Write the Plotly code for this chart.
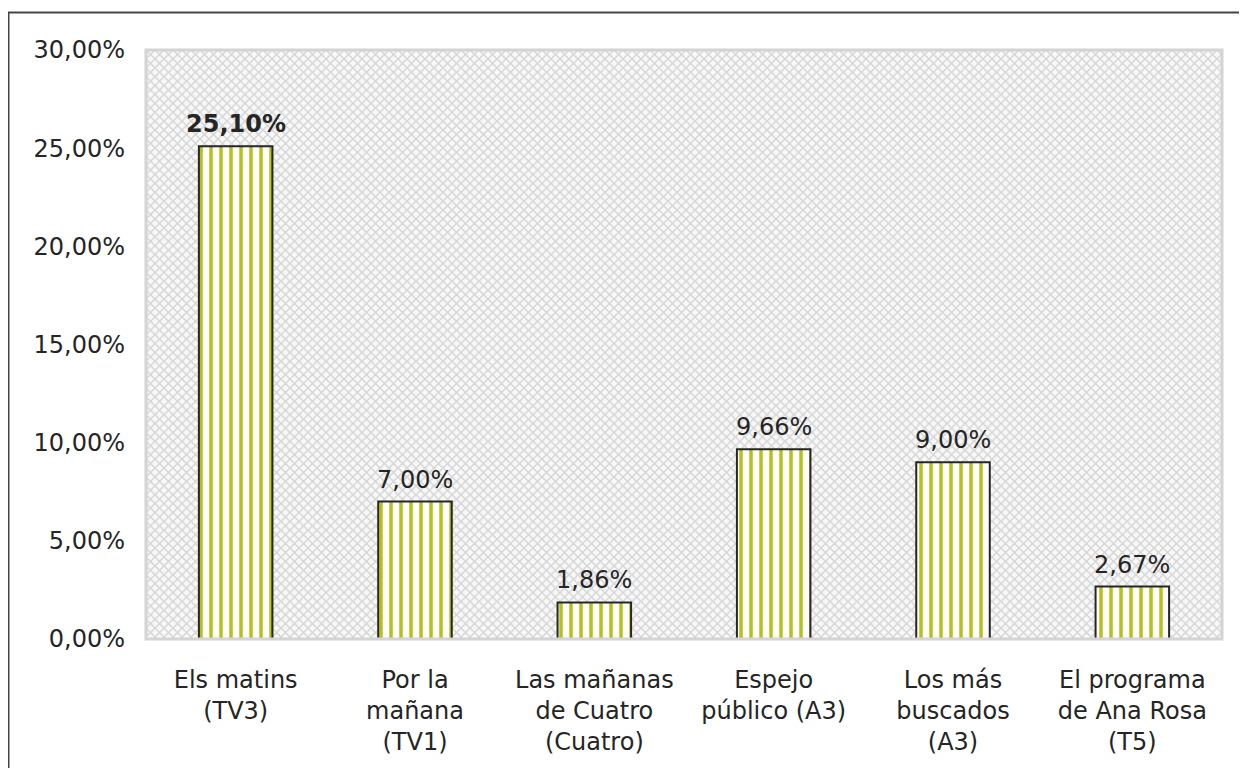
import base64
import plotly.graph_objects as go

categories = [
    "Els matins<br>(TV3)",
    "Por la<br>mañana<br>(TV1)",
    "Las mañanas<br>de Cuatro<br>(Cuatro)",
    "Espejo<br>público (A3)",
    "Los más<br>buscados<br>(A3)",
    "El programa<br>de Ana Rosa<br>(T5)",
]
values = [25.10, 7.00, 1.86, 9.66, 9.00, 2.67]
bold_flags = [True, False, False, False, False, False]
y_ticks = [0, 5, 10, 15, 20, 25, 30]

def fmt(v):
    return f"{v:.2f}".replace(".", ",") + "%"

labels = [f"<b>{fmt(v)}</b>" if b else fmt(v) for v, b in zip(values, bold_flags)]
tick_text = [fmt(t) for t in y_ticks]

# page body has an 8px margin; figure is sized so it sits inside the window
OFF = 8
W, H = 1247 - 2 * OFF, 776 - 2 * OFF
L, T = 146 - OFF, 50 - OFF
R = W - (1222 - OFF)
B = H - (646 - OFF)
pw, ph = W - L - R, H - T - B

svg = f'''<svg xmlns="http://www.w3.org/2000/svg" width="{pw}" height="{ph}">
<defs><pattern id="p" width="9" height="9" patternUnits="userSpaceOnUse">
<rect width="9" height="9" fill="#f8f8f8"/>
<path d="M0,0 L9,9 M9,0 L0,9" stroke="#d6d6d6" stroke-width="1.5"/>
</pattern></defs>
<rect width="{pw}" height="{ph}" fill="url(#p)"/></svg>'''
src = "data:image/svg+xml;base64," + base64.b64encode(svg.encode()).decode()

font = "DejaVu Sans, Verdana, sans-serif"
FS = 24
txt_color = "#252525"

fig = go.Figure()
fig.add_trace(go.Bar(
    x=categories,
    y=values,
    width=0.41,
    marker=dict(
        color="white",
        line=dict(color="#262626", width=2),
        pattern=dict(shape="|", size=10, solidity=0.35,
                     fgcolor="#b5c21a", bgcolor="white", fillmode="replace"),
    ),
    hoverinfo="skip",
))

annotations = [
    dict(x=c, y=v, xref="x", yref="y", text=lab, showarrow=False,
         yanchor="bottom", xanchor="center", yshift=6,
         font=dict(family=font, size=FS, color=txt_color))
    for c, v, lab in zip(categories, values, labels)
]

fig.update_layout(
    width=W, height=H,
    margin=dict(l=L, r=R, t=T, b=B),
    paper_bgcolor="white",
    plot_bgcolor="#ececec",
    showlegend=False,
    font=dict(family=font, size=FS, color=txt_color),
    annotations=annotations,
    images=[dict(source=src, xref="paper", yref="paper", x=0, y=1,
                 sizex=1, sizey=1, sizing="stretch", layer="below",
                 xanchor="left", yanchor="top")],
    shapes=[
        dict(type="rect", xref="paper", yref="paper", x0=0, y0=0, x1=1, y1=1,
             line=dict(color="#d4d4d4", width=3), layer="above"),
        dict(type="line", xref="paper", yref="paper",
             x0=(0 - L) / pw, x1=1.2, y0=(H - B - 4) / ph, y1=(H - B - 4) / ph,
             line=dict(color="#444444", width=2)),
        dict(type="line", xref="paper", yref="paper",
             x0=(0.5 - L) / pw, x1=(0.5 - L) / pw, y0=(H - B - 4) / ph, y1=-0.5,
             line=dict(color="#444444", width=2)),
    ],
)
fig.update_xaxes(
    showgrid=False, showline=False, zeroline=False,
    ticks="", ticklabelstandoff=24,
    tickfont=dict(family=font, size=FS, color=txt_color),
)
fig.update_yaxes(
    range=[0, 30], tickvals=y_ticks, ticktext=tick_text,
    showgrid=False, zeroline=False, showline=False, ticks="",
    ticklabelstandoff=20,
    tickfont=dict(family=font, size=FS, color=txt_color),
)

fig.write_html("out.html")
